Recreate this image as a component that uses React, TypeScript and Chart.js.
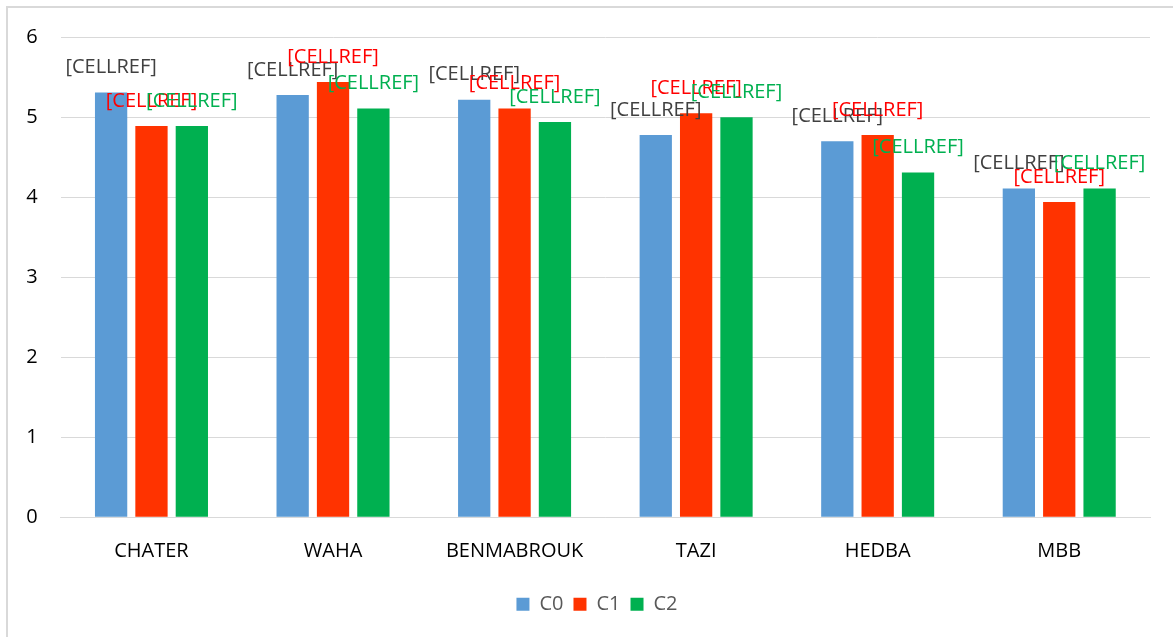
import React, { useEffect, useRef } from "react";
import { Chart, registerables } from "chart.js";

Chart.register(...registerables);

const categories = ["CHATER", "WAHA", "BENMABROUK", "TAZI", "HEDBA", "MBB"];
const seriesNames = ["C0", "C1", "C2"];
const c0Values = [5.31, 5.28, 5.22, 4.78, 4.7, 4.11];
const c1Values = [4.89, 5.44, 5.11, 5.05, 4.78, 3.94];
const c2Values = [4.89, 5.11, 4.94, 5.0, 4.31, 4.11];
const barColors = ["#5B9BD5", "#FF3300", "#00B050"];
const labelColors = ["#404040", "#FF0000", "#00B050"];
const cellLabel = "[CELLREF]";
const yTicks = [0, 1, 2, 3, 4, 5, 6];

const FONT = "'Open Sans', 'Noto Sans', sans-serif";

// Draws the "[CELLREF]" data label above every bar.
const cellRefLabels = {
  id: "cellRefLabels",
  afterDatasetsDraw(chart: any) {
    const ctx = chart.ctx;
    ctx.save();
    ctx.font = `20px ${FONT}`;
    ctx.textAlign = "center";
    ctx.textBaseline = "middle";
    chart.data.datasets.forEach((ds: any, di: number) => {
      const meta = chart.getDatasetMeta(di);
      ctx.fillStyle = labelColors[di];
      meta.data.forEach((bar: any) => {
        ctx.fillText(cellLabel, bar.x, bar.y - 25);
      });
    });
    ctx.restore();
  },
};

// Centres the legend under the whole chart rather than the padded box.
const legendShift = {
  id: "legendShift",
  afterLayout(chart: any) {
    const legend = chart.legend;
    if (legend) {
      legend.left += 18;
      legend.right += 18;
    }
  },
};

export default function App() {
  const canvasRef = useRef<HTMLCanvasElement>(null);

  useEffect(() => {
    if (!canvasRef.current) return;
    const valueSets = [c0Values, c1Values, c2Values];
    const chart = new Chart(canvasRef.current, {
      type: "bar",
      data: {
        labels: categories,
        datasets: seriesNames.map((name, i) => ({
          label: name,
          data: valueSets[i],
          backgroundColor: barColors[i],
          borderWidth: 0,
          categoryPercentage: 0.667,
          barPercentage: 0.8,
        })),
      },
      options: {
        responsive: false,
        animation: false,
        devicePixelRatio: 1,
        layout: { padding: { top: 29.3, left: 0, right: 36, bottom: 21.7 } },
        plugins: {
          tooltip: { enabled: false },
          legend: {
            position: "bottom",
            labels: {
              boxWidth: 13,
              boxHeight: 13,
              padding: 10,
              color: "#595959",
              font: { family: FONT, size: 20 },
            },
          },
        },
        scales: {
          x: {
            grid: { display: false, drawTicks: false },
            border: { display: true, color: "#D9D9D9", width: 1 },
            ticks: {
              color: "#000000",
              padding: 21.5,
              font: { family: FONT, size: 20 },
            },
            afterFit(scale: any) {
              scale.height = 67;
              scale.paddingLeft = 0;
              scale.paddingRight = 0;
            },
          },
          y: {
            min: 0,
            max: 6,
            afterBuildTicks(scale: any) {
              scale.ticks = yTicks.map((v) => ({ value: v }));
            },
            grid: { color: "#D9D9D9", lineWidth: 1, drawTicks: false },
            border: { display: false },
            ticks: {
              color: "#000000",
              padding: 23,
              font: { family: FONT, size: 20 },
            },
            afterFit(scale: any) {
              scale.width = 52.7;
              scale.paddingTop = 0;
              scale.paddingBottom = 0;
            },
          },
        },
      },
      plugins: [cellRefLabels, legendShift],
    });
    return () => chart.destroy();
  }, []);

  return (
    <div
      style={{
        position: "fixed",
        left: 6,
        top: 6,
        width: 1182,
        height: 642,
        border: "2px solid #D9D9D9",
        boxSizing: "border-box",
        background: "#ffffff",
      }}
    >
      <canvas ref={canvasRef} width={1178} height={638} style={{ display: "block" }} />
    </div>
  );
}
